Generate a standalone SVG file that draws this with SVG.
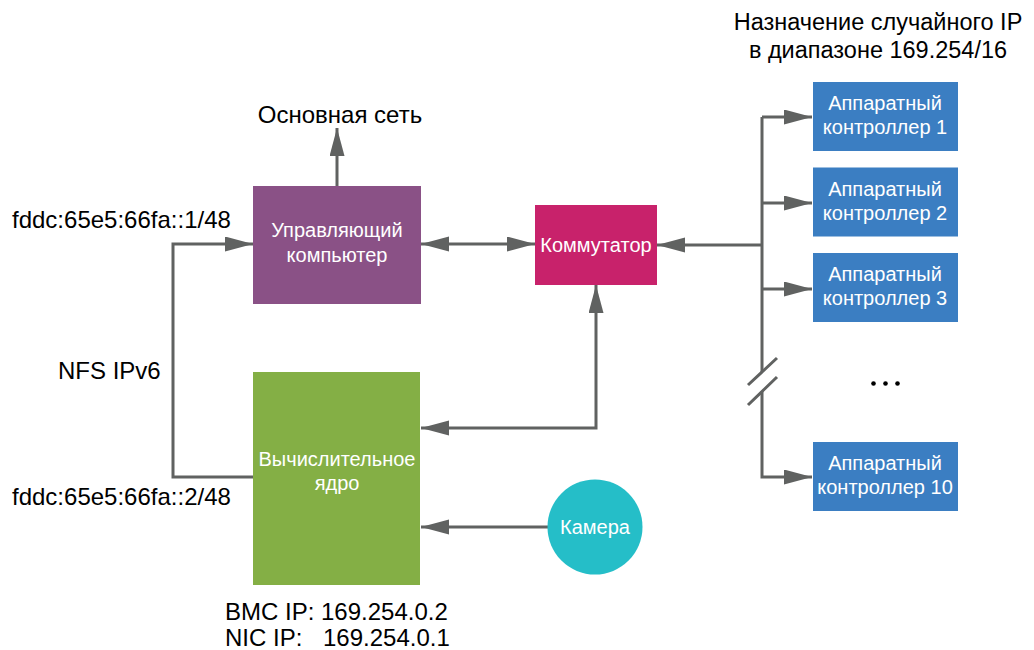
<svg xmlns="http://www.w3.org/2000/svg" width="1034" height="650" viewBox="0 0 1034 650">
<style>
.lbl{font-family:"Liberation Sans",Arial,sans-serif;font-size:24px;fill:#000}
.ttl{font-family:"Liberation Sans",Arial,sans-serif;font-size:23.5px;fill:#000;text-anchor:middle}
.in{font-family:"Liberation Sans",Arial,sans-serif;font-size:20px;fill:#fff;text-anchor:middle}
.c{fill:none;stroke:#606261;stroke-width:3}
</style>
<defs>
<marker id="ah" markerUnits="userSpaceOnUse" markerWidth="28" markerHeight="16" refX="28" refY="7.5" orient="auto-start-reverse">
<path d="M0,0 L28,7.5 L0,15 z" fill="#606261"/>
</marker>
</defs>
<rect width="1034" height="650" fill="#fff"/>
<g id="connectors">
<path class="c" d="M337,186 V128" marker-end="url(#ah)"/>
<path class="c" d="M421,244 H535" marker-start="url(#ah)" marker-end="url(#ah)"/>
<path class="c" d="M762,245 H657" marker-end="url(#ah)"/>
<path class="c" d="M762,117 V372"/>
<path class="c" d="M762,391 V477 H812" marker-end="url(#ah)"/>
<path class="c" d="M762,117 H812" marker-end="url(#ah)"/>
<path class="c" d="M762,203 H812" marker-end="url(#ah)"/>
<path class="c" d="M762,289 H812" marker-end="url(#ah)"/>
<path class="c" d="M748,385 L777,358 M748,405 L777,377"/>
<path class="c" d="M253,477 H173 V244 H253" marker-end="url(#ah)"/>
<path class="c" d="M596,285 V428 H421" marker-start="url(#ah)" marker-end="url(#ah)"/>
<path class="c" d="M548,527 H421" marker-end="url(#ah)"/>
</g>
<g id="mgmt-pc">
<rect x="253" y="186" width="168" height="118" fill="#8a5186"/>
<text class="in" x="337" y="237">Управляющий</text>
<text class="in" x="337" y="262">компьютер</text>
</g>
<g id="switch">
<rect x="535" y="205" width="122" height="80" fill="#c8226b"/>
<text class="in" x="596" y="252">Коммутатор</text>
</g>
<g id="compute">
<rect x="253" y="372" width="167" height="213" fill="#84af45"/>
<text class="in" x="337" y="466">Вычислительное</text>
<text class="in" x="337" y="490">ядро</text>
</g>
<g id="camera">
<circle cx="595" cy="527" r="47.5" fill="#25bec8"/>
<text class="in" x="595" y="534">Камера</text>
</g>
<g id="ctrl1">
<rect x="813" y="82" width="145" height="69" fill="#3b7ec2"/>
<text class="in" x="885" y="110">Аппаратный</text>
<text class="in" x="885" y="134">контроллер 1</text>
</g>
<g id="ctrl2">
<rect x="813" y="167.5" width="145" height="69" fill="#3b7ec2"/>
<text class="in" x="885" y="196">Аппаратный</text>
<text class="in" x="885" y="220">контроллер 2</text>
</g>
<g id="ctrl3">
<rect x="813" y="253" width="145" height="69" fill="#3b7ec2"/>
<text class="in" x="885" y="281">Аппаратный</text>
<text class="in" x="885" y="305">контроллер 3</text>
</g>
<g id="ctrl10">
<rect x="813" y="442" width="145" height="69" fill="#3b7ec2"/>
<text class="in" x="885" y="470">Аппаратный</text>
<text class="in" x="885" y="494">контроллер 10</text>
</g>
<g id="dots" fill="#000">
<circle cx="873.5" cy="383.5" r="2.3"/>
<circle cx="885.5" cy="383.5" r="2.3"/>
<circle cx="897.5" cy="383.5" r="2.3"/>
</g>
<g id="labels">
<text class="lbl" x="340" y="123" text-anchor="middle">Основная сеть</text>
<text class="lbl" x="12" y="228">fddc:65e5:66fa::1/48</text>
<text class="lbl" x="58" y="379">NFS IPv6</text>
<text class="lbl" x="12" y="505">fddc:65e5:66fa::2/48</text>
<text class="lbl" x="225" y="620">BMC IP: 169.254.0.2</text>
<text class="lbl" y="646"><tspan x="225">NIC IP:</tspan><tspan x="323">169.254.0.1</tspan></text>
<text class="ttl" x="878" y="30">Назначение случайного IP</text>
<text class="ttl" x="878" y="58">в диапазоне 169.254/16</text>
</g>
</svg>
